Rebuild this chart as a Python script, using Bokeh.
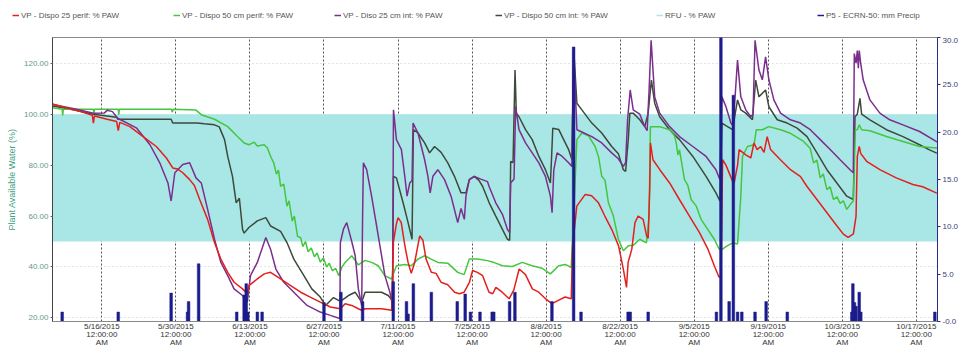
import pandas as pd
from bokeh.plotting import figure
from bokeh.models import (Range1d, LinearAxis, FixedTicker, Legend, LegendItem,
                          NumeralTickFormatter)
from bokeh.embed import file_html
from bokeh.resources import INLINE

BASE = "2015-05-01"   # time values below are days after this date

# ---- VP - Dispo 25 perif: % PAW (red)
red_t = [5.7, 8.0, 11.0, 13.2, 13.4, 13.6, 16.0, 17.8, 18.1, 18.4, 20.3, 22.8, 25.3, 27.2, 28.4, 29.3, 30.3, 31.6,
         32.5, 33.5, 35.0, 36.3, 37.5, 38.8, 40.0, 41.6, 42.5, 42.8, 44.4, 45.7, 46.9, 48.8, 50.7, 52.6, 54.4, 56.3,
         58.2, 60.1, 61.0, 62.25, 63.5, 64.1, 64.8, 66.0, 67.9, 69.8, 70.14, 70.7, 71.0, 71.6, 72.3, 72.9, 73.5,
         74.15, 75.1, 75.7, 76.3, 77.3, 78.2, 79.15, 80.4, 81.7, 82.6, 83.5, 84.5, 85.1, 86.0, 87.0, 88.2, 88.9,
         89.5, 90.7, 92.0, 92.9, 93.9, 95.1, 96.4, 97.6, 98.9, 100.1, 101.4, 102.6, 103.75, 104.0, 104.8, 106.4,
         107.6, 108.9, 110.1, 111.4, 112.7, 113.6, 114.2, 114.5, 115.2, 115.8, 116.4, 117.35, 118.0, 118.3, 118.6,
         118.72, 119.2, 120.5, 122.35, 124.2, 126.1, 128.0, 129.6, 130.8, 131.7, 132.05, 132.37, 133.0, 134.25,
         134.55, 135.2, 135.5, 136.75, 137.7, 138.3, 138.9, 139.56, 140.2, 140.8, 141.44, 143.3, 145.2, 147.1,
         148.3, 150.2, 152.1, 154.0, 155.2, 156.1, 157.1, 157.6, 157.84, 158.2, 158.5, 159.6, 162.1, 165.2, 168.35,
         170.2, 172.75, 173.0]
red_v = [104.0, 102.6, 101.0, 99.6, 96.5, 99.3, 98.0, 97.1, 93.5, 96.8, 95.1, 91.2, 87.3, 82.8, 78.9, 78.5, 77.0, 74.3,
         72.0, 66.5, 58.7, 49.6, 43.1, 37.9, 34.0, 31.4, 29.5, 32.7, 35.3, 37.3, 37.9, 35.3, 32.7, 30.1, 28.2, 26.2,
         24.3, 23.6, 25.6, 24.9, 23.6, 23.0, 23.6, 23.6, 23.6, 23.0, 50.0, 57.0, 59.4, 57.5, 48.3, 41.8, 37.5,
         41.8, 52.2, 50.5, 43.1, 37.9, 37.5, 34.0, 33.0, 30.1, 29.5, 30.1, 34.0, 38.6, 37.9, 36.6, 30.1, 29.5,
         32.0, 30.1, 27.5, 31.0, 39.2, 37.0, 31.4, 30.1, 27.5, 25.6, 27.0, 28.2, 27.5, 48.0, 63.9, 68.5,
         68.0, 65.2, 60.0, 54.8, 48.3, 39.2, 32.0, 41.8, 47.0, 57.4, 60.0, 58.7, 52.2, 51.3, 71.7,
         88.7, 82.1, 78.2, 73.0, 66.5, 60.0, 53.5, 47.0, 40.5, 36.0, 36.5, 82.1, 80.0, 73.7,
         73.0, 80.0, 86.1, 84.0, 82.8, 88.7, 86.1, 87.3, 85.0, 91.2, 86.1, 82.1, 78.2, 75.5,
         71.7, 66.5, 61.3, 56.1, 52.9, 51.6, 53.0, 60.0, 83.4, 87.3, 84.5, 81.5, 78.2, 75.0, 72.4,
         71.5, 69.1, 69.0]

# ---- VP - Dispo 50 cm perif: % PAW (green)
green_t = [5.7, 7.5, 7.6, 7.7, 13.4, 13.5, 13.6, 18.1, 18.2, 18.3, 28.2, 28.3, 28.5, 32.8, 33.8, 36.3, 38.8, 40.5,
           41.9, 42.8, 43.8, 44.4, 45.7, 46.3, 47.0, 47.5, 48.0, 48.4, 48.8, 49.4, 50.0, 50.4, 51.0, 51.4, 52.0,
           52.6, 53.0, 53.5, 54.0, 54.6, 55.2, 55.7, 56.3, 56.9, 57.5, 58.0, 58.6, 59.2, 59.8, 60.4, 61.0, 62.25,
           63.5, 64.77, 66.0, 67.26, 68.5, 69.76, 70.7, 72.28, 73.5, 74.77, 76.03, 77.27, 78.53, 80.4, 82.29, 83.5,
           84.48, 86.0, 87.9, 88.86, 90.74, 92.62, 94.49, 96.37, 98.25, 99.81, 101.38, 102.62, 103.75, 104.1,
           104.82, 105.76, 107.02, 108.26, 108.9, 109.52, 110.14, 110.78, 111.72, 112.66, 113.6, 114.53, 115.47,
           116.71, 117.97, 118.47, 118.72, 120.47, 122.35, 123.28, 123.6, 123.92, 124.22, 125.16, 125.8, 126.42,
           127.36, 128.3, 129.56, 130.8, 131.73, 132.37, 132.99, 134.25, 135.19, 135.81, 136.13, 137.07, 138.31,
           138.75, 139.88, 141.12, 143.32, 145.2, 147.69, 148.95, 149.57, 150.2, 150.83, 151.4, 152.09, 152.7,
           153.33, 154.0, 154.59, 155.2, 155.84, 156.5, 157.08, 157.46, 157.84, 158.21, 158.65, 160.22, 163.35,
           166.47, 169.61, 172.75, 173.0]
green_v = [102.5, 101.9, 99.5, 101.9, 101.9, 100.3, 101.9, 101.9, 99.8, 101.9, 101.9, 100.8, 101.9, 101.6, 99.8, 98.0,
           95.1, 91.5, 88.7, 88.0, 89.0, 87.5, 88.0, 86.7, 83.0, 80.9, 76.5, 78.0, 71.7, 72.5, 63.9, 66.0, 58.0,
           60.0, 52.0, 51.5, 48.0, 50.0, 46.0, 47.5, 44.0, 45.5, 42.0, 43.5, 40.0, 41.5, 38.5, 39.5, 36.6, 40.0,
           41.8, 44.4, 40.8, 42.6, 41.8, 40.5, 36.6, 35.3, 40.5, 41.0, 40.5, 43.1, 44.4, 43.1, 41.8, 41.5, 37.9,
           37.0, 43.1, 43.1, 42.5, 42.0, 40.5, 40.2, 41.8, 40.5, 39.5, 37.3, 40.5, 41.0, 39.8, 55.0, 90.0, 92.6,
           91.5, 87.3, 83.4, 75.6, 74.0, 65.2, 60.0, 50.9, 46.4, 48.3, 48.5, 50.9, 49.5, 60.0, 95.1, 95.1, 93.9,
           91.5, 88.7, 84.0, 86.0, 74.3, 72.0, 66.5, 64.0, 58.7, 54.8, 50.9, 47.0, 47.0, 48.0, 49.5, 49.0, 67.8,
           83.4, 87.3, 88.0, 93.9, 93.9, 95.1, 93.9, 92.5, 89.3, 86.5, 80.9, 82.0, 75.0, 76.5, 70.4, 71.5, 66.5,
           67.5, 65.0, 66.0, 62.6, 64.5, 65.9, 93.9, 93.9, 95.8, 93.9, 93.5, 91.2, 89.3, 87.3, 86.7, 86.6]

# ---- VP - Diso 25 cm int: % PAW (purple)
purple_t = [5.7, 10.0, 13.4, 15.5, 16.0, 17.0, 18.0, 21.6, 24.1, 25.95, 27.5, 28.1, 28.8, 30.3, 31.6, 32.8, 33.8,
            35.0, 36.3, 37.5, 38.8, 40.0, 41.6, 42.5, 43.1, 44.4, 46.0, 46.9, 47.9, 49.4, 51.3, 53.8, 56.3, 58.2,
            60.0, 60.1, 60.7, 61.3, 62.25, 62.9, 63.5, 64.13, 64.3, 64.45, 65.07, 66.0, 66.64, 67.58, 68.52, 69.46,
            69.95, 70.14, 70.7, 71.64, 72.28, 72.71, 73.22, 73.65, 73.84, 74.77, 76.03, 76.65, 77.08, 77.59, 78.53,
            79.79, 81.03, 81.97, 82.29, 82.91, 83.54, 83.84, 84.48, 85.42, 86.66, 87.92, 88.24, 89.48, 90.74, 91.68,
            92.11, 92.3, 92.93, 93.24, 93.87, 95.11, 96.37, 97.63, 98.87, 99.81, 100.13, 100.45, 101.07, 102.0,
            103.26, 103.88, 104.2, 104.82, 105.76, 107.64, 109.52, 111.4, 112.66, 113.6, 114.03, 114.4, 114.9,
            115.47, 116.71, 117.65, 118.1, 118.47, 118.85, 119.53, 120.47, 122.35, 124.22, 126.74, 129.24, 131.11,
            131.86, 132.24, 132.99, 133.93, 134.36, 135.19, 135.81, 136.75, 137.69, 138.12, 138.5, 139.24, 139.88,
            140.5, 141.12, 142.06, 143.32, 145.2, 147.08, 148.95, 150.83, 152.71, 154.59, 156.46, 157.08, 157.27,
            157.6, 157.84, 158.03, 158.21, 158.47, 158.96, 160.22, 162.1, 163.97, 166.47, 169.61, 172.75, 173.0]
purple_v = [103.8, 102.0, 100.4, 100.5, 101.5, 101.0, 98.4, 94.5, 88.0, 80.9, 73.0, 65.9, 77.0, 80.2, 80.9, 75.0, 73.0,
            62.6, 50.9, 41.8, 36.6, 31.4, 28.8, 26.2, 36.6, 41.8, 51.6, 47.0, 39.2, 34.0, 30.1, 24.9, 22.3, 21.0,
            19.8, 49.6, 55.0, 57.4, 50.0, 44.4, 31.4, 24.9, 60.0, 80.9, 78.2, 67.8, 60.0, 48.3, 36.6, 30.1,
            24.9, 101.7, 90.0, 86.1, 75.6, 67.8, 73.0, 74.0, 96.5, 92.6, 82.1, 75.6, 69.1, 75.6, 78.2,
            74.3, 67.8, 60.0, 57.4, 63.0, 58.7, 67.8, 74.3, 75.6, 74.5, 73.5, 71.5, 65.2, 60.7, 54.8,
            53.5, 73.0, 74.5, 103.0, 93.9, 88.7, 84.8, 80.9, 75.6, 67.8, 61.3, 78.0, 84.8, 83.5,
            80.9, 79.5, 125.0, 93.9, 93.0, 91.2, 88.7, 84.8, 82.5, 79.5, 81.0, 97.8, 109.5,
            101.7, 100.0, 95.1, 93.5, 109.5, 129.0, 106.8, 100.4, 95.1, 91.2, 87.3, 83.4, 78.2,
            74.3, 106.8, 103.0, 96.5, 95.5, 121.2, 106.8, 101.7, 99.0, 100.0, 129.0, 117.3, 113.5,
            122.5, 113.5, 105.6, 100.4, 97.8, 96.5, 93.9, 90.0, 86.1, 82.1, 78.2, 77.0, 123.8,
            120.0, 125.0, 118.0, 125.0, 120.0, 113.4, 105.6, 100.4, 97.8, 95.8, 93.2, 89.3, 89.0]

# ---- VP - Dispo 50 cm int: % PAW (dark olive)
olive_t = [5.7, 10.0, 13.4, 17.8, 18.0, 28.1, 28.4, 33.0, 34.4, 36.3, 37.2, 38.2, 38.8, 39.7, 40.4, 41.0, 41.6, 41.9,
           42.8, 44.4, 46.0, 46.9, 48.8, 50.0, 51.3, 53.2, 54.7, 56.3, 57.3, 58.8, 60.1, 61.63, 62.89, 64.13, 64.77,
           66.0, 67.88, 69.14, 69.95, 70.14, 70.7, 71.96, 72.9, 73.65, 73.9, 74.77, 76.03, 76.97, 77.91, 79.15,
           80.41, 81.67, 82.91, 83.84, 84.48, 85.42, 86.3, 86.98, 88.24, 89.48, 90.74, 91.68, 92.11, 92.3, 92.75,
           93.12, 93.37, 93.87, 95.11, 96.37, 97.63, 98.87, 99.81, 100.0, 100.26, 101.38, 102.32, 103.26, 103.88,
           104.2, 104.82, 105.76, 107.64, 109.52, 111.4, 112.66, 113.6, 114.03, 114.53, 114.83, 115.47, 116.71,
           117.65, 118.29, 118.91, 119.53, 120.47, 122.35, 124.22, 126.74, 129.24, 131.11, 131.86, 132.24, 132.99,
           134.25, 135.19, 135.81, 136.75, 138.01, 138.62, 139.24, 140.5, 141.12, 142.70, 144.58, 146.46, 148.33,
           150.21, 152.09, 153.97, 155.84, 157.08, 157.40, 157.84, 158.34, 158.65, 160.22, 163.35, 166.47, 169.61,
           171.49, 172.75, 173.0]
olive_v = [103.2, 101.5, 100.0, 98.8, 98.0, 98.0, 96.5, 96.5, 96.2, 95.8, 95.0, 90.0, 83.4, 75.6, 65.2, 67.0, 54.8, 53.3,
           55.5, 58.1, 59.4, 56.1, 54.0, 49.6, 43.1, 36.6, 31.4, 28.2, 24.9, 28.0, 26.5, 28.8, 30.1, 26.2, 30.1,
           30.1, 30.1, 28.8, 26.8, 75.6, 75.0, 65.2, 57.4, 50.9, 93.9, 92.6, 88.7, 84.8, 87.3, 85.0,
           80.9, 75.6, 69.1, 69.1, 74.3, 75.6, 74.0, 71.7, 65.2, 60.0, 54.8, 50.9, 50.5, 81.5, 81.0,
           117.3, 100.4, 99.0, 93.9, 90.0, 83.4, 78.2, 73.0, 81.5, 94.5, 94.0, 90.0, 86.1, 82.1,
           126.4, 104.3, 101.7, 96.5, 92.6, 87.3, 84.5, 78.2, 77.5, 90.0, 100.4, 100.4, 97.8,
           95.1, 100.4, 113.4, 104.3, 99.0, 93.9, 90.0, 83.4, 75.6, 69.1, 65.9, 96.5, 95.5,
           93.9, 105.6, 101.7, 100.4, 97.8, 113.4, 106.8, 109.5, 102.9, 97.8, 96.5, 94.5, 91.2,
           84.8, 78.2, 73.0, 67.8, 66.5, 99.0, 100.0, 106.2, 100.0, 97.8, 93.9, 91.2, 88.0,
           86.0, 84.8, 84.7]

# ---- RFU - % PAW (readily available water band)
rfu_t = [5.67, 173.0]
rfu_low = [50, 50]
rfu_high = [100, 100]

# ---- P5 - ECRN-50: mm Precip (bars, right axis)
precip_t = [7.5, 18.1, 28.1, 31.2, 31.4, 33.3, 40.5, 41.9, 42.3, 42.6, 44.4, 45.3, 57.0, 60.2, 64.3, 70.1, 72.6,
            72.9, 73.9, 77.3, 82.2, 83.7, 84.7, 86.5, 88.8, 89.1, 92.1, 93.1, 100.1, 104.2, 105.6, 114.5, 114.9,
            118.3, 131.2, 132.05, 133.6, 134.4, 135.2, 136.0, 138.5, 140.6, 144.6, 156.8, 157.0, 157.3, 157.6,
            158.2, 158.5, 172.5]
precip_mm = [1.0, 1.0, 3.0, 1.0, 2.1, 6.1, 1.0, 2.8, 4.0, 1.0, 1.0, 1.0, 2.0, 3.1, 2.1, 4.2, 2.1,
             0.8, 4.0, 3.1, 2.1, 2.9, 1.0, 1.0, 1.0, 1.0, 2.1, 3.1, 2.1, 29.0, 1.0, 1.0, 1.0,
             1.0, 1.0, 31.0, 2.1, 23.9, 1.0, 1.0, 1.0, 2.1, 1.0, 1.0, 4.0, 2.0, 1.6,
             3.1, 1.0, 1.0]

# ---- legend texts / colours
series_names = ["VP - Dispo 25 perif: % PAW", "VP - Dispo 50 cm perif: % PAW", "VP - Diso 25 cm int: % PAW",
                "VP - Dispo 50 cm int: % PAW", "RFU - % PAW", "P5 - ECRN-50: mm Precip"]
series_colors = ["#e3201c", "#45c63f", "#7b2f8c", "#3d4a3a", "#a9e6e6", "#1c1c8c"]

# ---- axes
tick_dates = ["2015-05-16", "2015-05-30", "2015-06-13", "2015-06-27", "2015-07-11", "2015-07-25",
              "2015-08-08", "2015-08-22", "2015-09-05", "2015-09-19", "2015-10-03", "2015-10-17"]
tick_labels = ["5/16/2015\n12:00:00\nAM", "5/30/2015\n12:00:00\nAM", "6/13/2015\n12:00:00\nAM",
               "6/27/2015\n12:00:00\nAM", "7/11/2015\n12:00:00\nAM", "7/25/2015\n12:00:00\nAM",
               "8/8/2015\n12:00:00\nAM", "8/22/2015\n12:00:00\nAM", "9/5/2015\n12:00:00\nAM",
               "9/19/2015\n12:00:00\nAM", "10/3/2015\n12:00:00\nAM", "10/17/2015\n12:00:00\nAM"]
left_ticks = [20, 40, 60, 80, 100, 120]
right_ticks = [0, 5, 10, 15, 20, 25, 30]
right_labels = ["-0.0", "5.0", "10.0", "15.0", "20.0", "25.0", "30.0"]


def to_dt(days):
    return pd.Timestamp(BASE) + pd.to_timedelta(pd.Series(days, dtype=float), unit="D")


def to_ms(d):
    return int(pd.Timestamp(d).value // 10**6)


x_start, x_end = to_dt(rfu_t)
series_data = [(red_t, red_v), (green_t, green_v), (purple_t, purple_v), (olive_t, olive_v),
               (rfu_t, rfu_high), (precip_t, precip_mm)]

FONT = "Liberation Sans"

# ================= main chart =================
p = figure(width=961, height=312, x_axis_type="datetime",
           x_range=Range1d(x_start, x_end), y_range=Range1d(18.6, 130.1),
           output_backend="svg", toolbar_location=None,
           min_border_left=52, min_border_top=0, min_border_right=0, min_border_bottom=0)
p.background_fill_color = "white"
p.border_fill_color = "white"
p.outline_line_color = "#8a8a8a"
p.extra_y_ranges = {"precip": Range1d(0, 30)}

# x axis
tick_ms = [to_ms(d) for d in tick_dates]
xt = FixedTicker(ticks=tick_ms)
p.xaxis.ticker = xt
p.xaxis.major_label_overrides = {ms: lab for ms, lab in zip(tick_ms, tick_labels)}
p.xaxis.major_label_text_font = FONT
p.xaxis.major_label_text_font_size = "8px"
p.xaxis.major_label_text_line_height = 0.9
p.xaxis.major_label_text_color = "#333333"
p.xaxis.major_label_standoff = 0
p.xaxis.major_tick_in = 0
p.xaxis.major_tick_out = 0
p.xaxis.minor_tick_line_color = None
p.xaxis.axis_line_color = "#8a8a8a"
p.xgrid.ticker = xt
p.xgrid.grid_line_color = "#555555"
p.xgrid.grid_line_dash = "2 2"
p.xgrid.grid_line_width = 1

# left axis
lt = FixedTicker(ticks=left_ticks)
p.yaxis.ticker = lt
p.yaxis.formatter = NumeralTickFormatter(format="0.00")
p.yaxis.axis_label = "Plant Available Water (%)"
p.yaxis.axis_label_text_font = FONT
p.yaxis.axis_label_text_font_size = "9px"
p.yaxis.axis_label_text_font_style = "normal"
p.yaxis.axis_label_text_color = "#3f9f85"
p.yaxis.axis_label_standoff = 4
p.yaxis.major_label_text_font = FONT
p.yaxis.major_label_text_font_size = "8px"
p.yaxis.major_label_text_color = "#5f9a88"
p.yaxis.major_label_standoff = 2
p.yaxis.major_tick_in = 0
p.yaxis.major_tick_out = 2
p.yaxis.minor_tick_line_color = None
p.yaxis.axis_line_color = "#444444"
p.yaxis.major_tick_line_color = "#666666"
p.ygrid.ticker = lt
p.ygrid.grid_line_color = "#c8c8c8"
p.ygrid.grid_line_dash = "1 3"

# right axis
ra = LinearAxis(y_range_name="precip", ticker=FixedTicker(ticks=right_ticks))
ra.major_label_overrides = {t: lab for t, lab in zip(right_ticks, right_labels)}
ra.major_label_text_font = FONT
ra.major_label_text_font_size = "8px"
ra.major_label_text_color = "#3c3c7a"
ra.major_label_standoff = 2
ra.major_tick_in = 0
ra.major_tick_out = 3
ra.minor_tick_line_color = None
ra.axis_line_color = "#2b2b80"
ra.major_tick_line_color = "#2b2b80"
p.add_layout(ra, "right")

# RFU band
p.varea(x=to_dt(rfu_t), y1=rfu_low, y2=rfu_high, fill_color=series_colors[4])

# series
p.line(to_dt(olive_t), olive_v, line_color=series_colors[3], line_width=1.5)
p.line(to_dt(green_t), green_v, line_color=series_colors[1], line_width=1.5)
p.line(to_dt(purple_t), purple_v, line_color=series_colors[2], line_width=1.5)
p.line(to_dt(red_t), red_v, line_color=series_colors[0], line_width=1.5)

# precipitation bars
p.vbar(x=to_dt(precip_t), top=precip_mm, bottom=0, width=0.5 * 86400000,
       y_range_name="precip", fill_color=series_colors[5], line_color=series_colors[5], line_width=0.5)

# ================= legend strip above the chart =================
# its own root, so that its frame spans the full page width
lg = figure(width=961, height=37, x_axis_type="datetime",
            x_range=Range1d(x_start, x_end), y_range=Range1d(1000, 1001),
            output_backend="svg", toolbar_location=None,
            x_axis_location=None, y_axis_location=None,
            min_border_left=0, min_border_right=0, min_border_top=0, min_border_bottom=0)
lg.outline_line_color = None
lg.grid.visible = False
lg.background_fill_color = "white"
lg.border_fill_color = "white"
items = []
for name, col, (st, sv) in zip(series_names, series_colors, series_data):
    r = lg.line(to_dt(st), sv, line_color=col, line_width=1.5)
    items.append(LegendItem(label=name, renderers=[r]))

legend = Legend(items=items, orientation="horizontal", location=(12, 17))
legend.glyph_width = 7
legend.glyph_height = 10
legend.label_standoff = 2
legend.label_width = 152
legend.label_height = 10
legend.spacing = 0
legend.padding = 0
legend.margin = 0
legend.border_line_alpha = 0
legend.background_fill_alpha = 0
legend.label_text_font = FONT
legend.label_text_font_size = "8px"
legend.label_text_color = "#555555"
lg.add_layout(legend, "center")

open("out.html", "w").write(file_html([lg, p], INLINE))
